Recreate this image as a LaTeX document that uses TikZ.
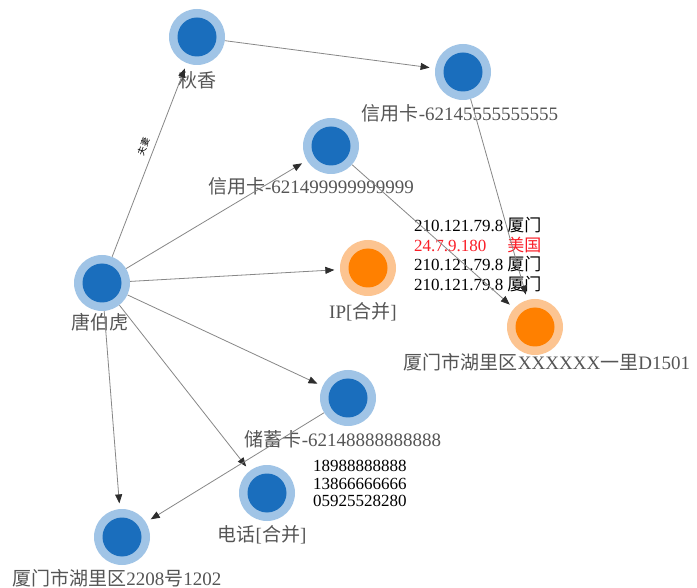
\documentclass[tikz,border=0pt]{standalone}
\usepackage{fontspec}
\setmainfont{Liberation Serif}
\newfontfamily\cjkfont{Noto Sans CJK SC}
\newcommand{\zhtext}[1]{{\cjkfont #1}}
\usetikzlibrary{arrows.meta}
\definecolor{coreblue}{RGB}{26,110,189}
\definecolor{ringblue}{RGB}{160,196,230}
\definecolor{coreorange}{RGB}{255,128,0}
\definecolor{ringorange}{RGB}{252,196,145}
\definecolor{labelgray}{RGB}{85,85,85}
\definecolor{edgegray}{RGB}{135,135,135}
\definecolor{tipgray}{RGB}{45,45,45}
\definecolor{ipred}{RGB}{250,30,40}
\begin{document}
\begin{tikzpicture}[x=1pt,y=-1pt,
  bnode/.style={circle, inner sep=0pt, minimum size=56pt, fill=ringblue,
    path picture={\fill[coreblue] (path picture bounding box.center) circle (19.5pt);}},
  onode/.style={circle, inner sep=0pt, minimum size=56pt, fill=ringorange,
    path picture={\fill[coreorange] (path picture bounding box.center) circle (19.5pt);}},
  lbl/.style={text=labelgray, font=\fontsize{19}{20}\selectfont, inner sep=0pt},
  datatext/.style={text=black, font=\fontsize{17}{17.5}\selectfont, inner sep=0pt, align=left},
  link/.style={draw=edgegray, line width=0.8pt,
    -{Triangle[length=9pt,width=7pt,color=tipgray]}, shorten >=5.5pt}
]
\useasboundingbox (0,0) rectangle (697,588);
\fill[white] (0,0) rectangle (697,588);

% nodes
\node[bnode] (qx) at (197,37) {};
\node[bnode] (c5) at (463,72) {};
\node[bnode] (c9) at (331,146) {};
\node[bnode] (tbh) at (102,283) {};
\node[onode] (ip) at (368,268) {};
\node[onode] (d1501) at (535,327) {};
\node[bnode] (cxk) at (348,398) {};
\node[bnode] (tel) at (267,493) {};
\node[bnode] (a2208) at (122,537) {};

% labels
\node[lbl] (lqx) at (197,80) {\zhtext{秋香}};
\node[lbl] (lc5) at (460,113) {\zhtext{信用卡}-62145555555555};
\node[lbl] (lc9) at (311,186) {\zhtext{信用卡}-621499999999999};
\node[lbl] (ltbh) at (100,322) {\zhtext{唐伯虎}};
\node[lbl] (lip) at (363,312) {IP[\zhtext{合并}]};
\node[lbl] (ld1501) at (547,362) {\zhtext{厦门市湖里区}XXXXXX\zhtext{一里}D1501};
\node[lbl] (lcxk) at (343,439) {\zhtext{储蓄卡}-62148888888888};
\node[lbl] (ltel) at (262,535) {\zhtext{电话}[\zhtext{合并}]};
\node[lbl] (la2208) at (117,578) {\zhtext{厦门市湖里区}2208\zhtext{号}1202};

% data texts
\node[datatext, anchor=north west] (iptext) at (414,217) {%
  \begin{tabular}{@{}l@{\hspace{4pt}}l@{}}
  210.121.79.8 & \zhtext{厦门}\\
  \textcolor{ipred}{24.7.9.180} & \textcolor{ipred}{\zhtext{美国}}\\
  210.121.79.8 & \zhtext{厦门}\\
  210.121.79.8 & \zhtext{厦门}
  \end{tabular}};
\node[datatext, anchor=north west] (teltext) at (313,460) {18988888888\\13866666666\\05925528280};

% edges
\draw[link] (qx) -- (c5);
\draw[link] (tbh) -- node[sloped, above, pos=0.55, inner sep=6pt, font=\fontsize{9}{9}\selectfont, text=black] (fq) {\zhtext{夫妻}} (qx);
\draw[link] (tbh) -- (c9);
\draw[link] (tbh) -- (ip);
\draw[link] (tbh) -- (cxk);
\draw[link] (tbh) -- (tel);
\draw[link] (tbh) -- (a2208);
\draw[link] (cxk) -- (a2208);
\draw[link] (c9) -- (d1501);
\draw[link] (c5) -- (d1501);
\end{tikzpicture}
\end{document}
